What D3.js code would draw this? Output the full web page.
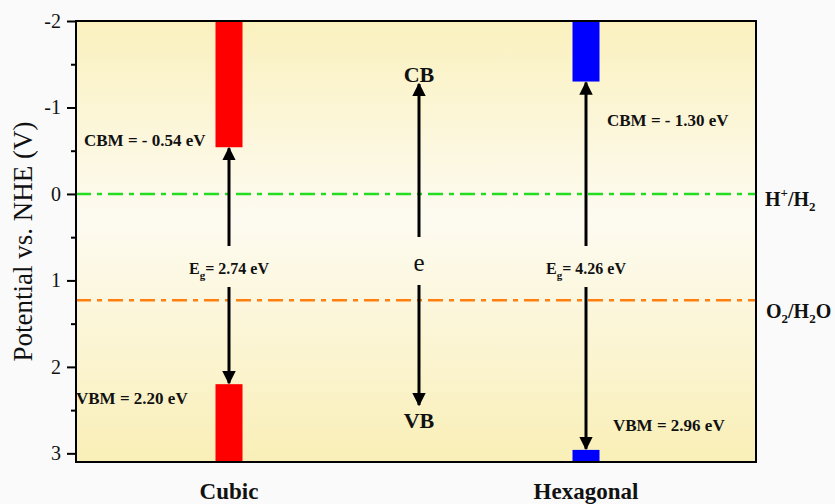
<!DOCTYPE html>
<html>
<head>
<meta charset="utf-8">
<script src="https://cdn.jsdelivr.net/npm/d3@7"></script>
<style>
  body { margin: 0; background: #fafafa; }
  text { font-family: "Liberation Serif", "Times New Roman", serif; fill: #111; }
</style>
</head>
<body>
<div id="chart"></div>
<script>
// phases and their band edges (V vs NHE)
var phases = ['Cubic', 'Hexagonal'];
var cbm = [-0.54, -1.30];
var vbm = [2.20, 2.96];
var gaps = ['2.74', '4.26'];
var cbmLabels = ['CBM = - 0.54 eV', 'CBM = - 1.30 eV'];
var vbmLabels = ['VBM = 2.20 eV', 'VBM = 2.96 eV'];
var redox = [0, 1.23];
var redoxColors = ['#22dd22', '#ff8010'];
var barColors = ['#ff0000', '#0000ff'];
var yTicks = [-2, -1, 0, 1, 2, 3];
var yMinor = [-1.5, -0.5, 0.5, 1.5, 2.5];

var width = 835, height = 504,
    margin = {left: 76, right: 79, top: 21, bottom: 42};

var svg = d3.select('#chart').append('svg')
    .attr('width', width)
    .attr('height', height);

var y = d3.scaleLinear()
    .domain([-2, 3.1])
    .range([margin.top, height - margin.bottom]);

var xPos = d3.scaleOrdinal().domain(phases).range([229, 586]);
var xMid = 419;
var barW = 27;

// background gradient
var defs = svg.append('defs');
var grad = defs.append('linearGradient')
    .attr('id', 'bg').attr('x1', 0).attr('y1', 0).attr('x2', 0).attr('y2', 1);
grad.append('stop').attr('offset', '0%').attr('stop-color', '#faf1be');
grad.append('stop').attr('offset', '45%').attr('stop-color', '#fdfbf1');
grad.append('stop').attr('offset', '100%').attr('stop-color', '#f9efb7');

defs.append('marker')
    .attr('id', 'head')
    .attr('viewBox', '0 0 10 10')
    .attr('refX', 9).attr('refY', 5)
    .attr('markerWidth', 4.5).attr('markerHeight', 4.5)
    .attr('orient', 'auto')
  .append('path')
    .attr('d', 'M0,0 L10,5 L0,10 z')
    .attr('fill', '#000');

var plotW = width - margin.left - margin.right,
    plotH = height - margin.top - margin.bottom;

svg.append('rect')
    .attr('x', margin.left).attr('y', margin.top)
    .attr('width', plotW).attr('height', plotH)
    .attr('fill', 'url(#bg)');

// redox lines
svg.selectAll('line.redox')
    .data(redox)
  .enter().append('line')
    .attr('class', 'redox')
    .attr('x1', margin.left).attr('x2', width - margin.right)
    .attr('y1', function(d) { return y(d); })
    .attr('y2', function(d) { return y(d); })
    .attr('stroke', function(d, i) { return redoxColors[i]; })
    .attr('stroke-width', 2.4)
    .attr('stroke-dasharray', '15,6,5,6');

// band bars
var yTop = y.domain()[0], yBottom = y.domain()[1];
svg.selectAll('rect.cb')
    .data(phases)
  .enter().append('rect')
    .attr('class', 'cb')
    .attr('x', function(d) { return xPos(d) - barW / 2; })
    .attr('width', barW)
    .attr('y', y(yTop))
    .attr('height', function(d, i) { return y(cbm[i]) - y(yTop); })
    .attr('fill', function(d, i) { return barColors[i]; });

svg.selectAll('rect.vb')
    .data(phases)
  .enter().append('rect')
    .attr('class', 'vb')
    .attr('x', function(d) { return xPos(d) - barW / 2; })
    .attr('width', barW)
    .attr('y', function(d, i) { return y(vbm[i]); })
    .attr('height', function(d, i) { return y(yBottom) - y(vbm[i]); })
    .attr('fill', function(d, i) { return barColors[i]; });

// gap arrows, broken by the Eg label
var labelY = 268;
phases.forEach(function(p, i) {
    var cx = xPos(p);
    svg.append('line')
        .attr('x1', cx).attr('x2', cx)
        .attr('y1', labelY - 22).attr('y2', y(cbm[i]) + 1)
        .attr('stroke', '#000').attr('stroke-width', 3)
        .attr('marker-end', 'url(#head)');
    svg.append('line')
        .attr('x1', cx).attr('x2', cx)
        .attr('y1', labelY + 19).attr('y2', y(vbm[i]) - 1)
        .attr('stroke', '#000').attr('stroke-width', 3)
        .attr('marker-end', 'url(#head)');

    var t = svg.append('text')
        .attr('x', cx).attr('y', labelY + 6)
        .attr('text-anchor', 'middle')
        .attr('font-size', 16).attr('font-weight', 'bold');
    t.append('tspan').text('E');
    t.append('tspan').attr('font-size', 11).attr('dy', 5).text('g');
    t.append('tspan').attr('dy', -5).text('= ' + gaps[i] + ' eV');
});

// CBM / VBM labels
svg.append('text').attr('x', 84).attr('y', y(cbm[0]) - 1)
    .attr('font-size', 17).attr('font-weight', 'bold').text(cbmLabels[0]);
svg.append('text').attr('x', 76).attr('y', y(vbm[0]) + 20)
    .attr('font-size', 17).attr('font-weight', 'bold').text(vbmLabels[0]);
svg.append('text').attr('x', 607).attr('y', 126)
    .attr('font-size', 17).attr('font-weight', 'bold').text(cbmLabels[1]);
svg.append('text').attr('x', 613).attr('y', 431)
    .attr('font-size', 17).attr('font-weight', 'bold').text(vbmLabels[1]);

// middle legend arrows
svg.append('line')
    .attr('x1', xMid).attr('x2', xMid)
    .attr('y1', 237).attr('y2', 84)
    .attr('stroke', '#000').attr('stroke-width', 3)
    .attr('marker-end', 'url(#head)');
svg.append('line')
    .attr('x1', xMid).attr('x2', xMid)
    .attr('y1', 285).attr('y2', 405)
    .attr('stroke', '#000').attr('stroke-width', 3)
    .attr('marker-end', 'url(#head)');
svg.append('text').attr('x', xMid).attr('y', 82)
    .attr('text-anchor', 'middle').attr('font-size', 22).attr('font-weight', 'bold').text('CB');
svg.append('text').attr('x', xMid).attr('y', 271)
    .attr('text-anchor', 'middle').attr('font-size', 25).text('e');
svg.append('text').attr('x', xMid).attr('y', 428)
    .attr('text-anchor', 'middle').attr('font-size', 22).attr('font-weight', 'bold').text('VB');

// redox labels
var h = svg.append('text').attr('x', 765).attr('y', y(redox[0]) + 12)
    .attr('font-size', 20).attr('font-weight', 'bold');
h.append('tspan').text('H');
h.append('tspan').attr('font-size', 13).attr('dy', -9).text('+');
h.append('tspan').attr('dy', 9).text('/H');
h.append('tspan').attr('font-size', 13).attr('dy', 5).text('2');

var o = svg.append('text').attr('x', 766).attr('y', y(redox[1]) + 18)
    .attr('font-size', 20).attr('font-weight', 'bold');
o.append('tspan').text('O');
o.append('tspan').attr('font-size', 13).attr('dy', 5).text('2');
o.append('tspan').attr('dy', -5).text('/H');
o.append('tspan').attr('font-size', 13).attr('dy', 5).text('2');
o.append('tspan').attr('dy', -5).text('O');

// frame
svg.append('rect')
    .attr('x', margin.left).attr('y', margin.top)
    .attr('width', plotW).attr('height', plotH)
    .attr('fill', 'none').attr('stroke', '#000').attr('stroke-width', 2);

// y axis
var yAxis = svg.append('g')
    .attr('transform', 'translate(' + margin.left + ',0)')
    .call(d3.axisLeft(y).tickValues(yTicks).tickSize(9).tickPadding(6)
        .tickFormat(function(d) { return String(d); }));
yAxis.select('.domain').remove();
yAxis.selectAll('line').attr('stroke-width', 2);
yAxis.selectAll('text')
    .attr('font-family', '"Liberation Serif", serif')
    .attr('font-size', 20).attr('fill', '#111');

svg.append('g')
    .attr('transform', 'translate(' + margin.left + ',0)')
    .call(d3.axisLeft(y).tickValues(yMinor).tickSize(5).tickFormat(''))
  .call(function(g) {
      g.select('.domain').remove();
      g.selectAll('line').attr('stroke-width', 2);
  });

svg.append('text')
    .attr('transform', 'translate(32,' + (margin.top + plotH / 2) + ') rotate(-90)')
    .attr('text-anchor', 'middle')
    .attr('font-size', 27)
    .text('Potential vs. NHE (V)');

// x labels
svg.selectAll('text.phase')
    .data(phases)
  .enter().append('text')
    .attr('class', 'phase')
    .attr('x', function(d) { return xPos(d); })
    .attr('y', 499)
    .attr('text-anchor', 'middle')
    .attr('font-size', 23).attr('font-weight', 'bold')
    .text(function(d) { return d; });
</script>
</body>
</html>
